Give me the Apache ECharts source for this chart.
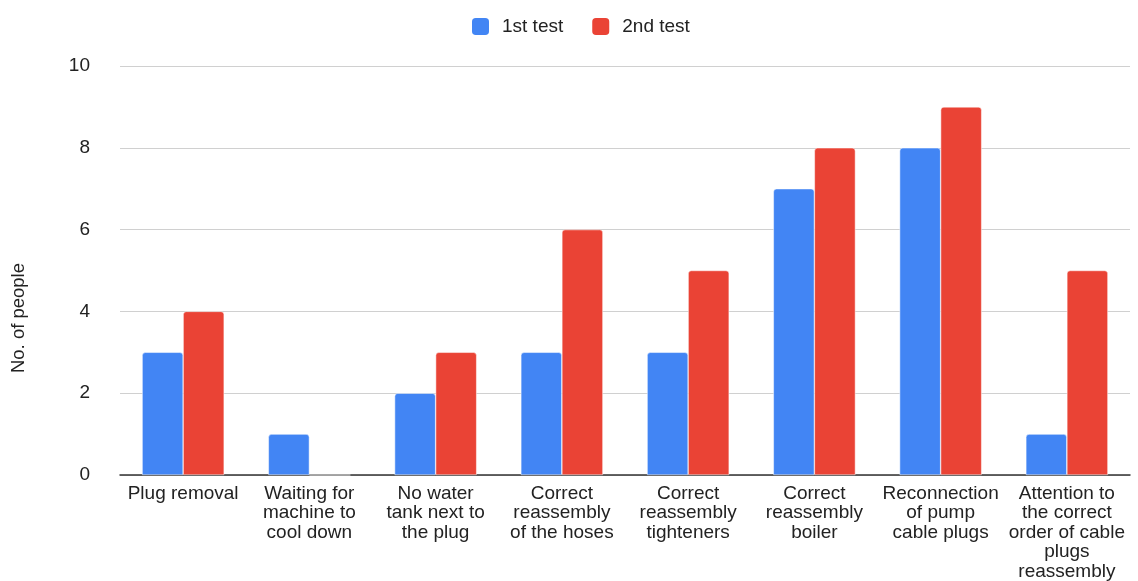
<!DOCTYPE html>
<html>
<head>
<meta charset="utf-8">
<script src="https://cdn.jsdelivr.net/npm/echarts@6/dist/echarts.min.js"></script>
<style>html,body{margin:0;padding:0;background:#fff}#c{width:1138px;height:581px}</style>
</head>
<body>
<div id="c"></div>
<script>
const categories = [
  "Plug removal",
  "Waiting for\nmachine to\ncool down",
  "No water\ntank next to\nthe plug",
  "Correct\nreassembly\nof the hoses",
  "Correct\nreassembly\ntighteners",
  "Correct\nreassembly\nboiler",
  "Reconnection\nof pump\ncable plugs",
  "Attention to\nthe correct\norder of cable\nplugs\nreassembly"
];
const test1 = [3, 1, 2, 3, 3, 7, 8, 1];
const test2 = [4, 0, 3, 6, 5, 8, 9, 5];
const yTicks = { min: 0, max: 10, interval: 2 };

const chart = echarts.init(document.getElementById('c'));
const font = 'Liberation Sans, Arial, sans-serif';
chart.setOption({
  animation: false,
  textStyle: { fontFamily: font },
  legend: {
    top: 11, left: 465,
    itemWidth: 19, itemHeight: 19, itemGap: 27,
    icon: 'roundRect',
    textStyle: { fontSize: 19, color: '#222', fontFamily: font, padding: [0, 0, 0, 7] },
    data: ['1st test', '2nd test']
  },
  grid: { left: 120, right: 8, top: 66, bottom: 104, containLabel: false },
  xAxis: {
    type: 'category', data: categories,
    axisTick: { show: false },
    axisLine: { lineStyle: { color: '#333', width: 1.5 } },
    axisLabel: { interval: 0, fontSize: 19, color: '#222', lineHeight: 19.4, margin: 9, fontFamily: font }
  },
  yAxis: {
    type: 'value', min: yTicks.min, max: yTicks.max, interval: yTicks.interval,
    axisLine: { show: false }, axisTick: { show: false },
    axisLabel: { fontSize: 19, color: '#222', margin: 30, fontFamily: font },
    splitLine: { lineStyle: { color: '#d0d0d0' } }
  },
  graphic: [{
    type: 'text', left: 9, top: 263, rotation: Math.PI / 2,
    style: { text: 'No. of people', fontSize: 18.5, fill: '#222', fontFamily: font }
  }],
  series: [
    { name: '1st test', type: 'bar', data: test1, barGap: '0%', barCategoryGap: '35%',
      itemStyle: { color: '#4285F4', borderRadius: [3, 3, 0, 0], borderColor: '#fff', borderWidth: 0.5 } },
    { name: '2nd test', type: 'bar', data: test2,
      itemStyle: { color: '#EA4335', borderRadius: [3, 3, 0, 0], borderColor: '#fff', borderWidth: 0.5 } }
  ]
});
</script>
</body>
</html>
